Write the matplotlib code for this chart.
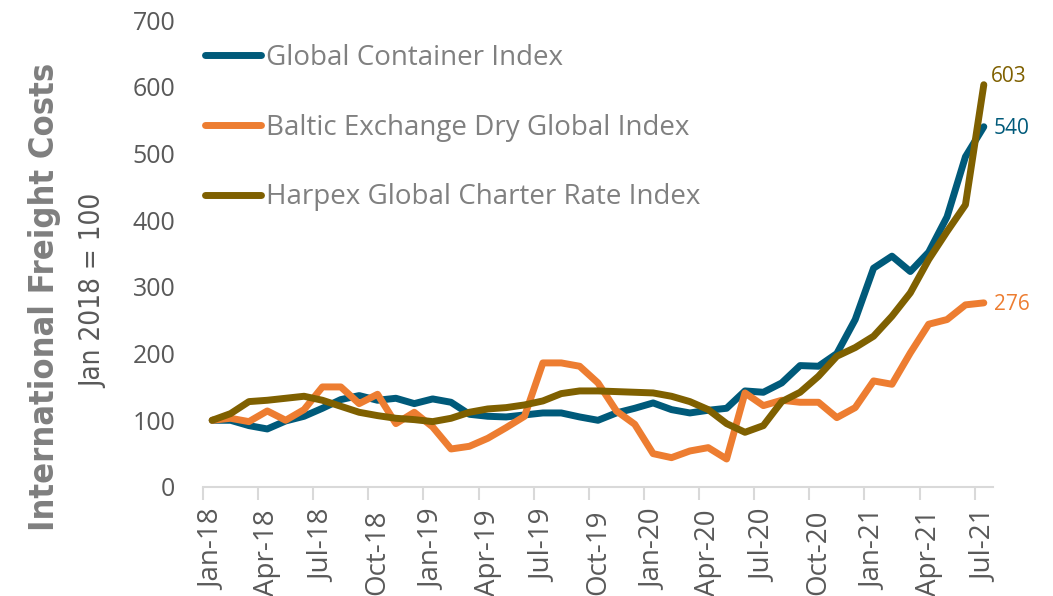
import numpy as np
import pandas as pd
import matplotlib
matplotlib.use("Agg")
import matplotlib.pyplot as plt
from matplotlib import font_manager as fm

# ---------------- data ----------------
months = pd.date_range("2018-01-01", periods=43, freq="MS")
xtick_labels = ["Jan-18", "Apr-18", "Jul-18", "Oct-18", "Jan-19", "Apr-19", "Jul-19",
                "Oct-19", "Jan-20", "Apr-20", "Jul-20", "Oct-20", "Jan-21", "Apr-21", "Jul-21"]

container = [100, 100, 92, 87, 99, 106, 118, 131, 137, 130, 133, 125, 132, 127, 109,
             106, 105, 108, 111, 111, 105, 100, 111, 118, 126, 116, 111, 115, 118, 144,
             142, 156, 182, 181, 200, 251, 328, 346, 323, 352, 405, 495, 540]
baltic = [100, 103, 98, 114, 100, 116, 150, 150, 125, 139, 95, 112, 90, 57, 61,
          73, 89, 106, 186, 186, 181, 156, 114, 94, 50, 44, 54, 59, 42, 141,
          122, 130, 127, 127, 104, 119, 159, 154, 201, 244, 251, 273, 276]
harpex = [100, 110, 128, 130, 133, 136, 130, 121, 112, 107, 103, 101, 98, 103, 112,
          117, 119, 123, 129, 140, 144, 144, 143, 142, 141, 136, 128, 116, 95, 82,
          92, 128, 142, 166, 196, 209, 226, 256, 291, 341, 383, 423, 603]

series_names = ["Global Container Index", "Baltic Exchange Dry Global Index",
                "Harpex Global Charter Rate Index"]
series_values = [container, baltic, harpex]
series_colors = ["#005a7a", "#ed7d31", "#7f6000"]
end_label_offsets = [(7, -1), (7, -1), (5, 6)]

# ---------------- style ----------------
plt.rcParams["font.family"] = ["Open Sans", "DejaVu Sans"]
W, H = 1053, 596
fig = plt.figure(figsize=(W / 100, H / 100), dpi=100)
ax = fig.add_axes([203 / W, 1 - 487 / H, (993 - 203) / W, (487 - 20) / H])

x = np.arange(len(months))
for vals, name, col in zip(series_values, series_names, series_colors):
    ax.plot(x, vals, color=col, lw=5, label=name,
            solid_capstyle="round", solid_joinstyle="round")

for vals, col, off in zip(series_values, series_colors, end_label_offsets):
    ax.annotate(f"{vals[-1]:.0f}", xy=(x[-1], vals[-1]), xytext=off,
                textcoords="offset points", color=col, fontsize=15,
                ha="left", va="center")

ax.set_xlim(-0.5, len(months) - 0.5)
ax.set_ylim(0, 700)
ax.set_yticks(np.arange(0, 701, 100))

# tick marks between categories, labels on categories
ax.set_xticks(np.arange(-0.5, len(months) - 1, 3))
ax.set_xticks(np.arange(0, len(months), 3), minor=True)
ax.set_xticklabels(xtick_labels, minor=True, rotation=90)
ax.tick_params(axis="x", which="major", length=9, width=1.5, color="#d9d9d9",
               labelbottom=False)
ax.tick_params(axis="x", which="minor", length=0, pad=16, labelsize=20,
               labelcolor="#595959")
ax.tick_params(axis="y", length=0, pad=20, labelsize=18, labelcolor="#595959")

for s in ["left", "right", "top"]:
    ax.spines[s].set_visible(False)
ax.spines["bottom"].set_color("#d9d9d9")
ax.spines["bottom"].set_linewidth(1.5)

leg = ax.legend(loc="upper left", bbox_to_anchor=(205 / W, 1 - 44 / H),
                bbox_transform=fig.transFigure, frameon=False, fontsize=20,
                handlelength=2.0, handletextpad=0.18, labelspacing=1.5,
                borderpad=0, borderaxespad=0, labelcolor="#808080")


# condensed fonts for the rotated axis titles
def pick_condensed(bold):
    cands = [f for f in fm.fontManager.ttflist
             if ("Condensed" in f.name or "Narrow" in f.name
                 or str(f.stretch) in ("condensed", "semi-condensed"))
             and f.style == "normal"]

    def w(f):
        try:
            return int(f.weight)
        except (TypeError, ValueError):
            return {"normal": 400, "regular": 400, "bold": 700}.get(str(f.weight), 400)

    target = 700 if bold else 400
    if not cands:
        return None
    cands.sort(key=lambda f: abs(w(f) - target))
    return fm.FontProperties(fname=cands[0].fname)


fp_bold = pick_condensed(True)
fp_reg = pick_condensed(False)

t1 = fig.text(45 / W, 1 - 297 / H, "International Freight Costs", rotation=90,
              ha="center", va="center", color="#7f7f7f",
              **({"fontproperties": fp_bold} if fp_bold else {"fontweight": "bold"}))
t2 = fig.text(93 / W, 1 - 291 / H, "Jan 2018 = 100", rotation=90,
              ha="center", va="center", color="#595959",
              **({"fontproperties": fp_reg} if fp_reg else {}))
t1.set_fontsize(22)
t2.set_fontsize(15)

fig.canvas.draw()
r = fig.canvas.get_renderer()
for t, target in [(t1, 465), (t2, 195)]:
    h = t.get_window_extent(r).height
    t.set_fontsize(t.get_fontsize() * target / h)

fig.savefig("out.png", dpi=100)
